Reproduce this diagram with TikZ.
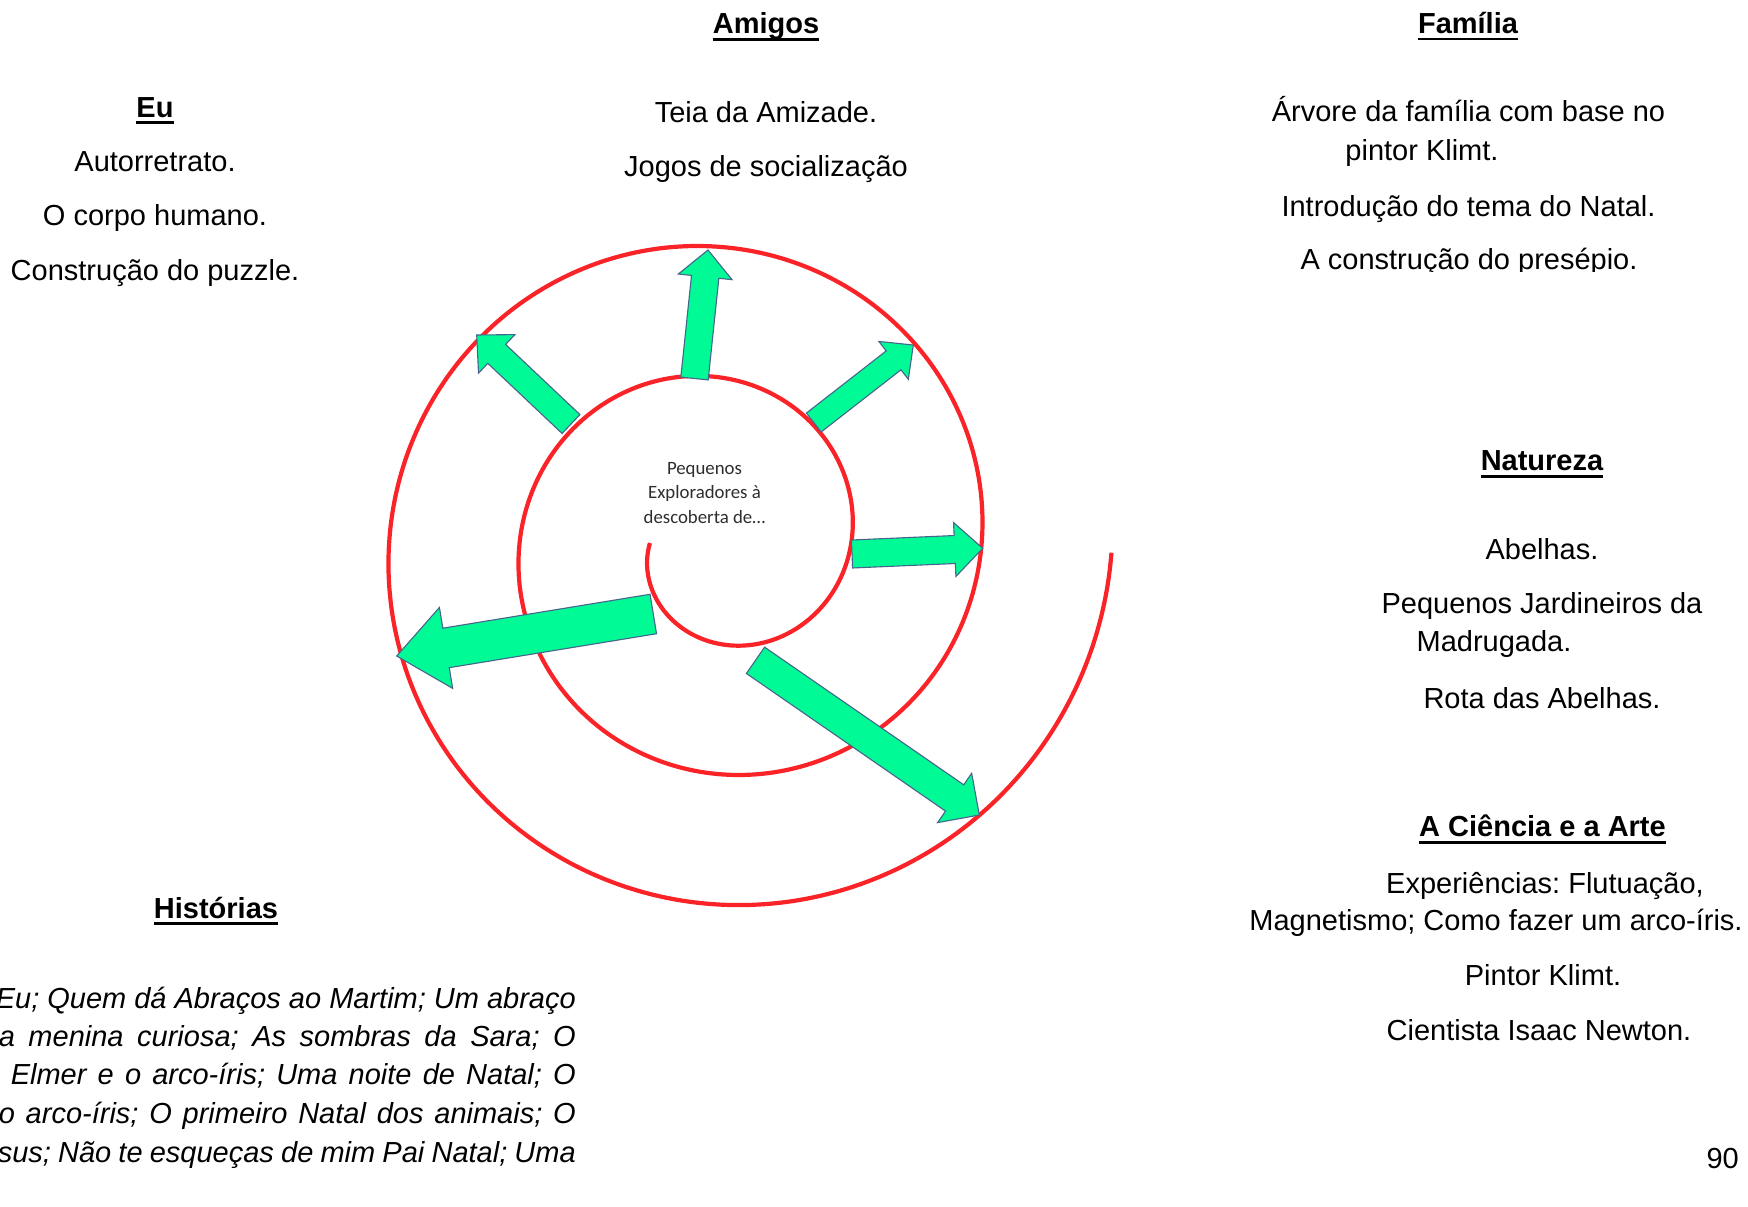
\documentclass[tikz,border=0pt]{standalone}
\usepackage{fontspec}
\setmainfont{Liberation Sans}
\newfontfamily\calfont{Carlito}
\usetikzlibrary{calc}
\frenchspacing
\definecolor{spiralred}{RGB}{250,35,40}
\definecolor{arrowgreen}{RGB}{0,250,150}
\definecolor{arrowedge}{RGB}{70,100,140}
\definecolor{centergray}{RGB}{45,45,45}
\tikzset{
  txt/.style={inner sep=0pt,anchor=base,font=\fontsize{29}{34}\selectfont},
  head/.style={inner sep=0pt,anchor=base,font=\fontsize{29}{34}\selectfont\bfseries},
  story/.style={inner sep=0pt,anchor=base east,font=\fontsize{29}{34}\selectfont\itshape},
  ulrule/.style={line width=2.8pt},
  blockarrow/.style={fill=arrowgreen,draw=arrowedge,line width=1.1pt,line join=miter},
}
\begin{document}
\begin{tikzpicture}[x=1pt,y=-1pt]
\useasboundingbox (0,0) rectangle (1748,1207);
% spiral
\draw[spiralred,line width=4.2pt,samples=400,domain=pi:6*pi-0.02,smooth,variable=\t]
  plot ({718+(20.76*\t+2.8)*cos(\t r)},{543-(20.76*\t+2.8)*sin(\t r)});
% arrows, tail and tip
\coordinate (upT) at (694.5,378.5); \coordinate (upP) at (708,250);
\coordinate (ulT) at (571,424);     \coordinate (ulP) at (476.7,335);
\coordinate (urT) at (813.8,422.5); \coordinate (urP) at (913.3,345);
\coordinate (rtT) at (852,554);     \coordinate (rtP) at (982.7,548.3);
\coordinate (lfT) at (653.3,614);   \coordinate (lfP) at (396.7,656);
\coordinate (lrT) at (755.5,660.3); \coordinate (lrP) at (979.3,815);
\foreach \t/\p/\w/\h/\l in {upT/upP/13.75pt/27pt/27pt, ulT/ulP/13pt/26.5pt/27.5pt,
    urT/urP/12pt/24pt/25pt, rtT/rtP/14pt/27pt/28pt, lfT/lfP/20pt/41pt/50pt,
    lrT/lrP/16pt/30pt/30pt}{
  \coordinate (b) at ($(\p)!\l!(\t)$);
  \draw[blockarrow] ($(\t)!\w!90:(\p)$) -- ($(b)!\w!-90:(\t)$) -- ($(b)!\h!-90:(\t)$)
    -- (\p) -- ($(b)!\h!90:(\t)$) -- ($(b)!\w!90:(\t)$) -- ($(\t)!\w!-90:(\p)$) -- cycle;
}
\node[align=center,text=centergray,font=\calfont\fontsize{18.8}{24.5}\selectfont] (title) at (704.5,493)
  {Pequenos\\Exploradores à\\descoberta de…};
% Eu
\node[head] (eu) at (155,117) {Eu};
\node[txt] (eu1) at (155,171) {Autorretrato.};
\node[txt] (eu2) at (155,225.5) {O corpo humano.};
\node[txt] (eu3) at (155,280) {Construção do puzzle.};
% Amigos
\node[head] (amigos) at (766,33.5) {Amigos};
\node[txt] (am1) at (766,122) {Teia da Amizade.};
\node[txt] (am2) at (766,176.5) {Jogos de socialização};
% Familia
\node[head] (familia) at (1468,33.3) {Família};
\begin{scope}
  \clip (1100,0) rectangle (1748,271);
  \node[txt] (fa1) at (1468.5,121.7) {Árvore da família com base no};
  \node[txt] (fa2) at (1422,160.7) {pintor Klimt.};
  \node[txt] (fa3) at (1468.5,216.7) {Introdução do tema do Natal.};
  \node[txt] (fa4) at (1469,269) {A construção do presépio.};
\end{scope}
% Natureza
\node[head] (natureza) at (1542,470.5) {Natureza};
\node[txt] (na1) at (1542,559) {Abelhas.};
\node[txt] (na2) at (1542,613.5) {Pequenos Jardineiros da};
\node[txt] (na3) at (1494,651) {Madrugada.};
\node[txt] (na4) at (1542,708.5) {Rota das Abelhas.};
% Ciencia e Arte
\node[head] (ciencia) at (1542.5,836.7) {A Ciência e a Arte};
\node[txt] (ci1) at (1545,893) {Experiências: Flutuação,};
\node[txt] (ci2) at (1496,930) {Magnetismo; Como fazer um arco-íris.};
\node[txt] (ci3) at (1543,985) {Pintor Klimt.};
\node[txt] (ci4) at (1539,1040) {Cientista Isaac Newton.};
% Historias
\node[head] (historias) at (216,918) {Histórias};
\node[story] (st1) at (576,1008) {\makebox[580pt][s]{Eu; Quem dá Abraços ao Martim; Um abraço}};
\node[story] (st2) at (576,1046) {\makebox[577pt][s]{a menina curiosa; As sombras da Sara; O}};
\node[story] (st3) at (576,1084.5) {\makebox[565pt][s]{Elmer e o arco-íris; Uma noite de Natal; O}};
\node[story] (st4) at (576,1123.5) {\makebox[577pt][s]{o arco-íris; O primeiro Natal dos animais; O}};
\node[story] (st5) at (576,1162) {\makebox[578pt][s]{sus; Não te esqueças de mim Pai Natal; Uma}};
\node[txt,anchor=base east] (page) at (1739,1168) {90};
% underlines
\foreach \n in {eu,amigos,familia,natureza,ciencia,historias}
  \draw[ulrule] ([yshift=-5.7pt]\n.base west) -- ([yshift=-5.7pt]\n.base east);
\end{tikzpicture}
\end{document}
